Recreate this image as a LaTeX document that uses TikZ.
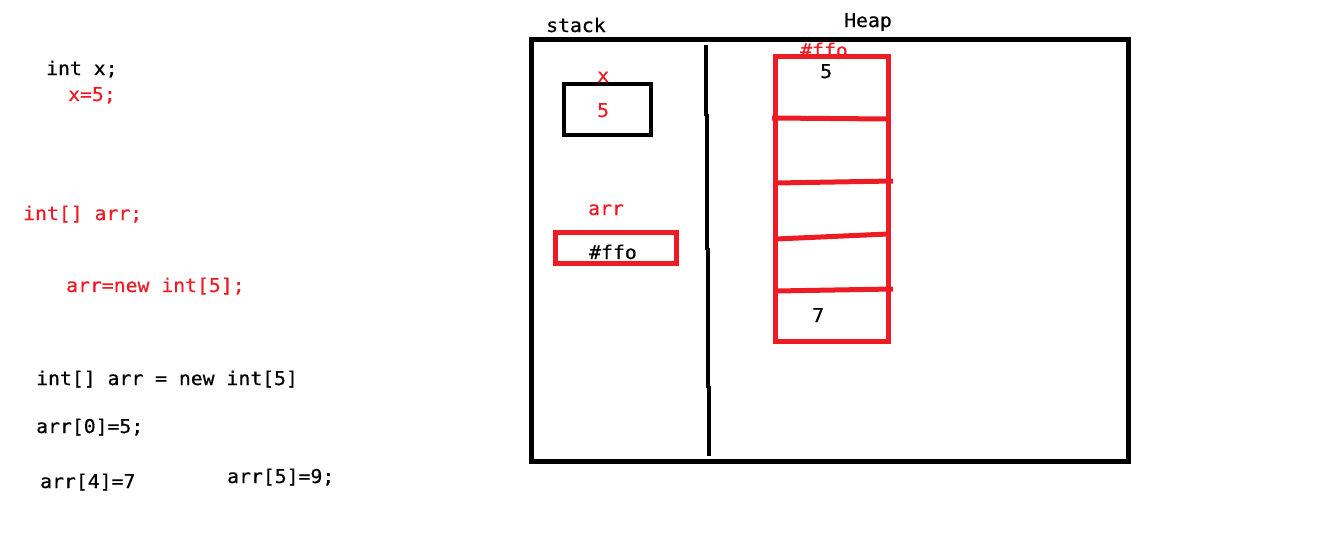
\documentclass[tikz,border=0pt]{standalone}
\usepackage{fontspec}
\newfontfamily\codefont[FakeStretch=1.04,FakeBold=0.6]{DejaVu Sans Mono}
\definecolor{pred}{HTML}{ED1C24}
\begin{document}
\begin{tikzpicture}[x=1pt,y=-1pt,
  txt/.style={anchor=base west,inner sep=0pt,font=\codefont\fontsize{19}{22}\selectfont},
  rtxt/.style={txt,text=pred},
  bline/.style={draw=black,line width=5pt},
  rline/.style={draw=pred,line width=5pt}]
\useasboundingbox[fill=white] (0,0) rectangle (1320,549);
% left code
\node[txt]  (t1) at (46,75)  {int x;};
\node[rtxt] (t2) at (68,101) {x=5;};
\node[rtxt] (t3) at (23,220) {int[] arr;};
\node[rtxt] (t4) at (66,292) {arr=new int[5];};
\node[txt]  (t5) at (36,385) {int[] arr = new int[5]};
\node[txt]  (t6) at (36,433) {arr[0]=5;};
\node[txt]  (t7) at (40,488) {arr[4]=7};
\node[txt]  (t8) at (227,483) {arr[5]=9;};
% frame
\node[txt] (stack) at (546,32) {stack};
\node[txt] (heap) at (844,27) {Heap};
\draw[bline] (531,39) rectangle (1128,461);
% divider (hand drawn)
\draw[draw=black,line width=4.5pt] (706,45) -- (706,116);
\draw[draw=black,line width=4.5pt] (707,114) -- (707,250);
\draw[draw=black,line width=4.5pt] (708,248) -- (708,388);
\draw[draw=black,line width=4.5pt] (709,386) -- (709,456);
% stack x
\draw[draw=black,line width=4.5pt] (564,84) rectangle (651,135);
\node[rtxt] (xl) at (597,82) {x};
\node[rtxt] (xv) at (597,117) {5};
% stack arr
\draw[rline] (555,232) rectangle (676,263);
\node[rtxt] (al) at (588,215) {arr};
\node[txt] (av) at (589,259) {\#ffo};
% heap array
\node[rtxt] (hl) at (800,57) {\#ffo};
\draw[rline] (775,56) rectangle (888,341);
\draw[rline] (772,118) -- (888,119);
\draw[rline] (776,183) -- (893,181);
\draw[rline] (776,239) -- (888,234);
\draw[rline] (776,291) -- (893,289);
\node[txt] (h0) at (820,78) {5};
\node[txt] (h4) at (812,322) {7};
\end{tikzpicture}
\end{document}
